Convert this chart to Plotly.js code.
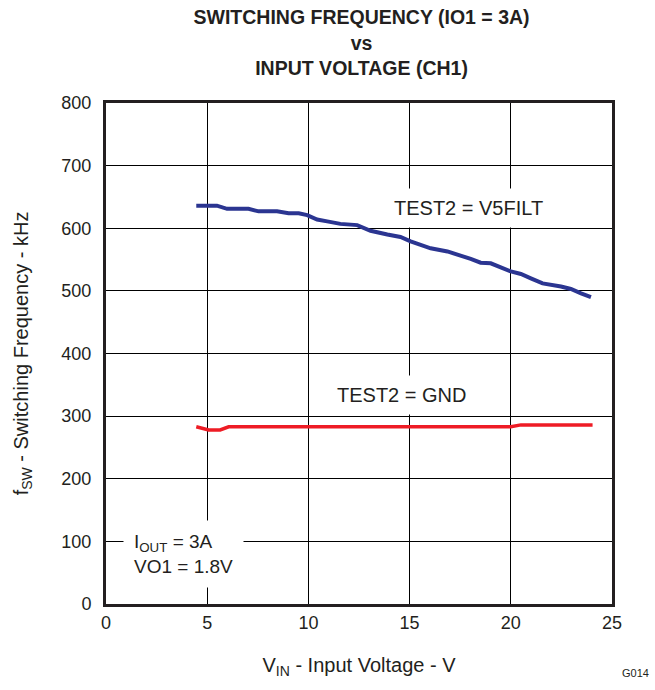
<!DOCTYPE html>
<html>
<head>
<meta charset="utf-8">
<script src="https://cdn.plot.ly/plotly-3.0.1.min.js"></script>
<style>
  html, body { margin: 0; padding: 0; background: #fff; }
  #chart { width: 655px; height: 690px; }
</style>
</head>
<body>
<div id="chart"></div>
<script>
// Switching frequency vs input voltage, CH1, IO1 = 3A
const vinV5filt = [4.46, 5.48, 5.98, 7.04, 7.54, 8.45, 9.02, 9.52, 9.94, 10.43, 10.93, 11.58, 12.41, 13.07, 13.9, 14.55, 15.05, 16.04, 16.87, 17.52, 18.02, 18.51, 19.01, 20.0, 20.5, 20.99, 21.57, 22.48, 22.97, 23.47, 23.96];
const fswV5filt = [636, 636, 631, 631, 627, 627, 624, 624, 621, 614, 611, 607, 605, 596, 590, 586, 579, 568, 563, 557, 551, 545, 544, 531, 527, 520, 512, 507, 503, 496, 490];

const vinGnd = [4.46, 5.07, 5.64, 6.06, 10, 15, 20.0, 20.5, 24.04];
const fswGnd = [283, 278, 278, 283, 283, 283, 283, 286, 286];

const xTicks = [0, 5, 10, 15, 20, 25];
const yTicks = [0, 100, 200, 300, 400, 500, 600, 700, 800];

const FONT = 'Liberation Sans, Arial, Helvetica, sans-serif';
const INK = '#231f20';

const traces = [
  {
    x: vinV5filt, y: fswV5filt, type: 'scatter', mode: 'lines',
    line: { color: '#2b3591', width: 4 }, hoverinfo: 'skip'
  },
  {
    x: vinGnd, y: fswGnd, type: 'scatter', mode: 'lines',
    line: { color: '#ee1c25', width: 3.5 }, hoverinfo: 'skip'
  }
];

const axisCommon = {
  showgrid: true, gridcolor: '#000', gridwidth: 1,
  showline: true, linecolor: INK, linewidth: 3, mirror: true,
  zeroline: false, ticks: '', tickfont: { family: FONT, size: 18, color: INK },
  fixedrange: true
};

const layout = {
  width: 655, height: 690,
  paper_bgcolor: '#fff', plot_bgcolor: '#fff',
  showlegend: false,
  margin: { l: 106, r: 43, t: 103, b: 86 },
  font: { family: FONT, color: INK },
  title: {
    text: '<b>SWITCHING FREQUENCY (IO1 = 3A)</b><br><b>vs</b><br><b>INPUT VOLTAGE (CH1)</b>',
    font: { family: FONT, size: 19.5, color: INK },
    x: 0.552, xanchor: 'center', yref: 'container', y: 0.965, yanchor: 'middle'
  },
  xaxis: Object.assign({}, axisCommon, {
    range: [0, 25], tickvals: xTicks, ticktext: xTicks.map(String),
    title: { text: 'V<sub>IN</sub> - Input Voltage - V', font: { family: FONT, size: 20, color: INK }, standoff: 27 }
  }),
  yaxis: Object.assign({}, axisCommon, {
    range: [0, 800], tickvals: yTicks, ticktext: yTicks.map(String),
    ticklabelstandoff: 8,
    title: { text: 'f<sub>SW</sub> - Switching Frequency - kHz', font: { family: FONT, size: 20, color: INK }, standoff: 28 }
  }),
  annotations: [
    {
      text: 'TEST2 = V5FILT', xref: 'x', yref: 'y', x: 17.9, y: 632,
      showarrow: false, bgcolor: '#fff', borderpad: 8,
      font: { family: FONT, size: 20, color: INK }
    },
    {
      text: 'TEST2 = GND', xref: 'x', yref: 'y', x: 14.6, y: 334,
      showarrow: false, bgcolor: '#fff', borderpad: 8,
      font: { family: FONT, size: 20, color: INK }
    },
    {
      text: 'I<sub>OUT</sub> = 3A<br>VO1 = 1.8V', xref: 'x', yref: 'y', x: 0.85, y: 80,
      xanchor: 'left', align: 'left', showarrow: false, bgcolor: '#fff', borderpad: 10,
      font: { family: FONT, size: 19, color: INK }
    },
    {
      text: 'G014', xref: 'paper', yref: 'paper', x: 1.077, y: -0.137,
      xanchor: 'right', yanchor: 'middle', showarrow: false,
      font: { family: FONT, size: 11, color: INK }
    }
  ]
};

Plotly.newPlot('chart', traces, layout, { displayModeBar: false, staticPlot: true });
</script>
</body>
</html>
